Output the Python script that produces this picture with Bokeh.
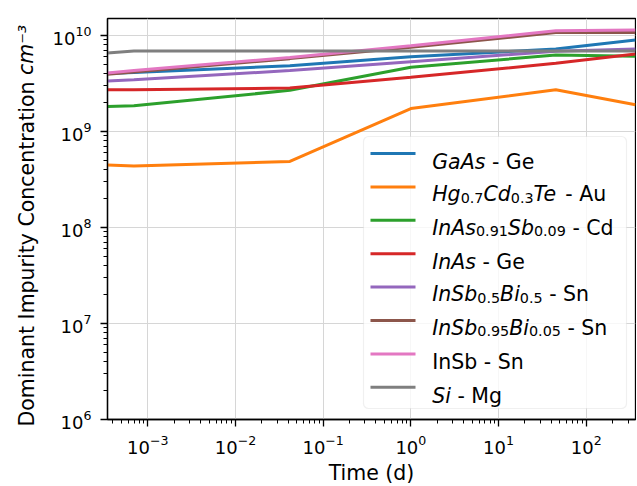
import math
from bokeh.plotting import figure
from bokeh.models import Range1d, FixedTicker, Label, BoxAnnotation
from bokeh.embed import file_html
from bokeh.resources import INLINE

# ---------------- data ----------------
time_d = [3.47e-4, 6.94e-4, 0.0417, 1.0, 45.0, 365.0]

gaas_ge = [4.0e9, 4.1e9, 4.84e9, 6.0e9, 7.22e9, 8.96e9]
hgcdte_au = [4.46e8, 4.36e8, 4.87e8, 1.73e9, 2.72e9, 1.9e9]
inassb_cd = [1.82e9, 1.85e9, 2.68e9, 4.65e9, 6.25e9, 6.05e9]
inas_ge = [2.72e9, 2.72e9, 2.83e9, 3.66e9, 5.12e9, 6.41e9]
insbbi05_sn = [3.36e9, 3.46e9, 4.3e9, 5.33e9, 6.82e9, 7.22e9]
insbbi005_sn = [3.95e9, 4.15e9, 5.73e9, 7.54e9, 1.07e10, 1.07e10]
insb_sn = [4.07e9, 4.30e9, 5.89e9, 7.81e9, 1.12e10, 1.14e10]
si_mg = [6.57e9, 6.88e9, 6.88e9, 6.88e9, 6.88e9, 6.9e9]

series = [gaas_ge, hgcdte_au, inassb_cd, inas_ge, insbbi05_sn, insbbi005_sn, insb_sn, si_mg]
colors = ["#1f77b4", "#ff7f0e", "#2ca02c", "#d62728", "#9467bd", "#8c564b", "#e377c2", "#7f7f7f"]

# legend labels: (text, kind) with kind i=italic, n=normal, s=subscript
legend_parts = [
    [("GaAs", "i"), (" - Ge", "n")],
    [("Hg", "i"), ("0.7", "s"), ("Cd", "i"), ("0.3", "s"), ("Te", "i"), (" - Au", "n")],
    [("InAs", "i"), ("0.91", "s"), ("Sb", "i"), ("0.09", "s"), (" - Cd", "n")],
    [("InAs", "i"), (" - Ge", "n")],
    [("InSb", "i"), ("0.5", "s"), ("Bi", "i"), ("0.5", "s"), (" - Sn", "n")],
    [("InSb", "i"), ("0.95", "s"), ("Bi", "i"), ("0.05", "s"), (" - Sn", "n")],
    [("InSb - Sn", "n")],
    [("Si", "i"), (" - Mg", "n")],
]

x_major = [1e-3, 1e-2, 1e-1, 1e0, 1e1, 1e2]
y_major = [1e6, 1e7, 1e8, 1e9, 1e10]
x_label = "Time (d)"
y_label_main = "Dominant Impurity Concentration"
y_label_unit = "cm\u207b\u00b3"

# ---------------- style ----------------
FONT = "DejaVu Sans"
LEG_FS = 20.5
SUB_FS = LEG_FS * 0.7
TICK_FS = 18
LAB_FS = 20.5

# DejaVu Sans advance widths (units of 2048 em)
ADV = {
    " ": 651, "-": 739, ".": 651, "\u2212": 1716,
    "0": 1303, "1": 1303, "2": 1303, "3": 1303, "4": 1303, "5": 1303,
    "6": 1303, "7": 1303, "8": 1303, "9": 1303,
    "A": 1401, "B": 1405, "C": 1430, "D": 1577, "G": 1589, "H": 1540, "I": 604,
    "M": 1767, "S": 1300, "T": 1251,
    "a": 1255, "b": 1300, "c": 1126, "d": 1300, "e": 1260, "g": 1300, "i": 569,
    "m": 1995, "n": 1298, "o": 1253, "p": 1300, "r": 842, "s": 1067, "t": 803,
    "u": 1298, "y": 1212,
}


def tw(s, size):
    return sum(ADV.get(ch, 1250) for ch in s) / 2048.0 * size


def minors(lo_exp, hi_exp, lo, hi):
    out = []
    for e in range(lo_exp, hi_exp + 1):
        for m in range(2, 10):
            v = m * 10.0 ** e
            if lo < v < hi:
                out.append(v)
    return out


x_lo, x_hi = 3.47e-4, 365.0
y_lo, y_hi = 1e6, 1.5e10

p = figure(
    x_axis_type="log", y_axis_type="log",
    x_range=Range1d(x_lo, x_hi), y_range=Range1d(y_lo, y_hi),
    frame_width=528, frame_height=401,
    min_border_left=107, min_border_right=1, min_border_top=18, min_border_bottom=60,
    output_backend="svg", toolbar_location=None,
)
p.background_fill_color = "white"
p.border_fill_color = "white"
p.outline_line_color = "black"
p.outline_line_width = 1.3

xt = FixedTicker(ticks=x_major, minor_ticks=minors(-4, 2, x_lo, x_hi))
yt = FixedTicker(ticks=y_major, minor_ticks=minors(6, 10, y_lo, y_hi))
p.xaxis.ticker = xt
p.yaxis.ticker = yt
p.xgrid.ticker = xt
p.ygrid.ticker = yt
for g in (p.xgrid, p.ygrid):
    g.grid_line_color = "#d6d6d6"
    g.grid_line_width = 1

for ax in (p.xaxis, p.yaxis):
    ax.axis_line_color = "black"
    ax.axis_line_width = 1.3
    ax.major_tick_line_color = "black"
    ax.minor_tick_line_color = "black"
    ax.major_tick_line_width = 1.3
    ax.minor_tick_line_width = 1
    ax.major_tick_out = 7
    ax.major_tick_in = 0
    ax.minor_tick_out = 4
    ax.minor_tick_in = 0
    ax.major_label_text_font = FONT
    ax.major_label_text_font_size = f"{TICK_FS}px"
    ax.major_label_text_color = "black"
    ax.major_label_standoff = 8
p.yaxis.major_label_standoff = 9

p.xaxis.axis_label = x_label
p.xaxis.axis_label_text_font = FONT
p.xaxis.axis_label_text_font_size = f"{LAB_FS}px"
p.xaxis.axis_label_text_font_style = "normal"
p.xaxis.axis_label_text_color = "black"
p.xaxis.axis_label_standoff = 4

for vals, c in zip(series, colors):
    p.line(time_d, vals, line_color=c, line_width=3)


def make_text(x, y, text, size, style="normal", angle=0.0):
    return Label(
        x=x, y=y, x_units="screen", y_units="screen", text=text,
        text_font=FONT, text_font_size=f"{size:.2f}px", text_font_style=style,
        text_color="black", text_align="left", text_baseline="alphabetic",
        angle=angle,
    )


# ---- y axis label: two rotated labels in the left panel ----
yl_y = -7.0
p.add_layout(make_text(1.0, yl_y, y_label_main, LAB_FS, "normal", math.pi / 2), "left")
p.add_layout(make_text(24.0, yl_y + tw(y_label_main + " ", LAB_FS), y_label_unit,
                       LAB_FS, "italic", math.pi / 2), "left")

# ---- legend ----
p.add_layout(BoxAnnotation(
    left=256, right=519, bottom=11, top=283,
    left_units="screen", right_units="screen", bottom_units="screen", top_units="screen",
    fill_color="white", fill_alpha=0.8, line_color="#cccccc", line_width=1.2,
    border_radius=5, level="annotation",
))

row0 = 266.0
dy = 33.4
for i, (parts, c) in enumerate(zip(legend_parts, colors)):
    yc = row0 - dy * i
    p.add_layout(BoxAnnotation(
        left=263, right=308, bottom=yc - 1.5, top=yc + 1.5,
        left_units="screen", right_units="screen", bottom_units="screen", top_units="screen",
        fill_color=c, fill_alpha=1.0, line_color=None, level="annotation",
    ))
    has_sub = any(k == "s" for _, k in parts)
    base = yc - (7.3 if has_sub else 8.4)
    x = 324.7
    for txt, kind in parts:
        lead = len(txt) - len(txt.lstrip(" "))
        x += tw(" " * lead, LEG_FS)
        t = txt.lstrip(" ")
        if kind == "s":
            lab = make_text(x, base - 3.5, t, SUB_FS, "normal")
            x += tw(t, SUB_FS)
        else:
            lab = make_text(x, base, t, LEG_FS, "italic" if kind == "i" else "normal")
            x += tw(t, LEG_FS)
        lab.level = "overlay"
        p.add_layout(lab)

open("out.html", "w").write(file_html(p, INLINE))
